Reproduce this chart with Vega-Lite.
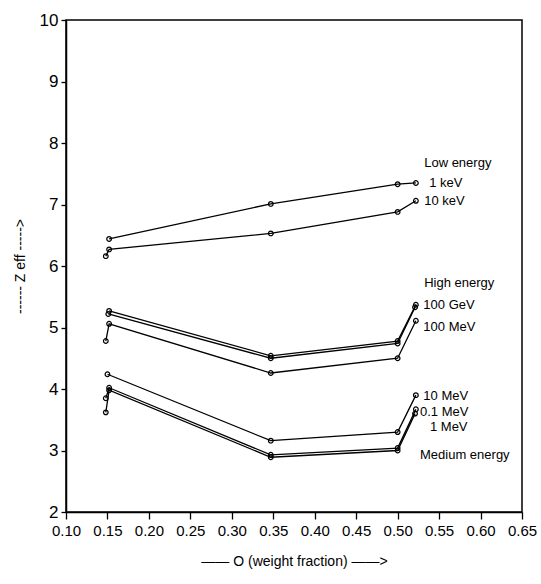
{
  "$schema": "https://vega.github.io/schema/vega-lite/v6.json",
  "width": 456,
  "height": 492,
  "autosize": "none",
  "padding": {"left": 66, "top": 20, "right": 19, "bottom": 72},
  "background": "white",
  "config": {
    "view": {"stroke": "black", "strokeWidth": 1.5},
    "font": "Liberation Sans Narrow, Liberation Sans, sans-serif"
  },
  "datasets": {
    "series": [
      {"s": "1 keV", "x": 0.152, "y": 6.44},
      {"s": "1 keV", "x": 0.347, "y": 7.01},
      {"s": "1 keV", "x": 0.5, "y": 7.33},
      {"s": "1 keV", "x": 0.522, "y": 7.35},
      {"s": "10 keV", "x": 0.148, "y": 6.16},
      {"s": "10 keV", "x": 0.152, "y": 6.27},
      {"s": "10 keV", "x": 0.347, "y": 6.53},
      {"s": "10 keV", "x": 0.5, "y": 6.88},
      {"s": "10 keV", "x": 0.522, "y": 7.06},
      {"s": "100 GeV", "x": 0.152, "y": 5.27},
      {"s": "100 GeV", "x": 0.347, "y": 4.54},
      {"s": "100 GeV", "x": 0.5, "y": 4.78},
      {"s": "100 GeV", "x": 0.522, "y": 5.37},
      {"s": "10 GeV", "x": 0.151, "y": 5.22},
      {"s": "10 GeV", "x": 0.347, "y": 4.5},
      {"s": "10 GeV", "x": 0.5, "y": 4.74},
      {"s": "10 GeV", "x": 0.521, "y": 5.33},
      {"s": "100 MeV", "x": 0.148, "y": 4.78},
      {"s": "100 MeV", "x": 0.152, "y": 5.06},
      {"s": "100 MeV", "x": 0.347, "y": 4.26},
      {"s": "100 MeV", "x": 0.5, "y": 4.5},
      {"s": "100 MeV", "x": 0.522, "y": 5.11},
      {"s": "10 MeV", "x": 0.15, "y": 4.24},
      {"s": "10 MeV", "x": 0.347, "y": 3.16},
      {"s": "10 MeV", "x": 0.5, "y": 3.3},
      {"s": "10 MeV", "x": 0.522, "y": 3.9},
      {"s": "0.1 MeV", "x": 0.148, "y": 3.85},
      {"s": "0.1 MeV", "x": 0.152, "y": 4.02},
      {"s": "0.1 MeV", "x": 0.347, "y": 2.93},
      {"s": "0.1 MeV", "x": 0.5, "y": 3.04},
      {"s": "0.1 MeV", "x": 0.522, "y": 3.67},
      {"s": "1 MeV", "x": 0.148, "y": 3.62},
      {"s": "1 MeV", "x": 0.152, "y": 3.98},
      {"s": "1 MeV", "x": 0.347, "y": 2.89},
      {"s": "1 MeV", "x": 0.5, "y": 3.0},
      {"s": "1 MeV", "x": 0.521, "y": 3.6}
    ],
    "labels": [
      {"label": "Low energy", "x": 0.532, "y": 7.67},
      {"label": "1 keV", "x": 0.538, "y": 7.35},
      {"label": "10 keV", "x": 0.532, "y": 7.06},
      {"label": "High energy", "x": 0.532, "y": 5.72},
      {"label": "100 GeV", "x": 0.531, "y": 5.37},
      {"label": "100 MeV", "x": 0.531, "y": 5.01},
      {"label": "10 MeV", "x": 0.531, "y": 3.89},
      {"label": "0.1 MeV", "x": 0.527, "y": 3.63},
      {"label": "1 MeV", "x": 0.539, "y": 3.38},
      {"label": "Medium energy", "x": 0.527, "y": 2.93}
    ]
  },
  "layer": [
    {
      "data": {"name": "series"},
      "mark": {
        "type": "line",
        "color": "black",
        "strokeWidth": 1.3,
        "point": {"shape": "circle", "filled": false, "size": 22, "stroke": "black", "strokeWidth": 1.2}
      },
      "encoding": {
        "x": {
          "field": "x", "type": "quantitative",
          "scale": {"domain": [0.1, 0.65], "nice": false, "zero": false},
          "axis": {
            "values": [0.1, 0.125, 0.15, 0.175, 0.2, 0.225, 0.25, 0.275, 0.3, 0.325, 0.35, 0.375, 0.4, 0.425, 0.45, 0.475, 0.5, 0.525, 0.55, 0.575, 0.6, 0.625, 0.65],
            "labelExpr": "abs(round(datum.value*1000) % 50) < 1 ? format(datum.value, '.2f') : ''",
            "tickSize": {"condition": {"test": "abs(round(datum.value*1000) % 50) < 1", "value": 7}, "value": 4},
            "domainColor": "black", "domainWidth": 1.5,
            "tickColor": "black", "tickWidth": 1.3,
            "grid": false,
            "labelFontSize": 15, "labelColor": "black", "labelPadding": 4,
            "labelFlush": false,
            "title": "—— O (weight fraction) ——>",
            "titleFontSize": 14, "titleFontWeight": "normal", "titleColor": "black",
            "titlePadding": 16
          }
        },
        "y": {
          "field": "y", "type": "quantitative",
          "scale": {"domain": [2, 10], "nice": false, "zero": false},
          "axis": {
            "values": [2, 2.5, 3, 3.5, 4, 4.5, 5, 5.5, 6, 6.5, 7, 7.5, 8, 8.5, 9, 9.5, 10],
            "labelExpr": "datum.value % 1 == 0 ? format(datum.value, 'd') : ''",
            "tickSize": {"condition": {"test": "datum.value % 1 == 0", "value": 5}, "value": 3},
            "domainColor": "black", "domainWidth": 1.5,
            "tickColor": "black", "tickWidth": 1.3,
            "grid": false,
            "labelFontSize": 17, "labelColor": "black", "labelPadding": 3,
            "labelFlush": false,
            "title": "------ Z eff ----->",
            "titleFontSize": 14, "titleFontWeight": "normal", "titleColor": "black",
            "titlePadding": 12
          }
        },
        "detail": {"field": "s", "type": "nominal"}
      }
    },
    {
      "data": {"name": "labels"},
      "mark": {"type": "text", "align": "left", "baseline": "middle", "fontSize": 13, "color": "black"},
      "encoding": {
        "x": {"field": "x", "type": "quantitative"},
        "y": {"field": "y", "type": "quantitative"},
        "text": {"field": "label", "type": "nominal"}
      }
    }
  ]
}
